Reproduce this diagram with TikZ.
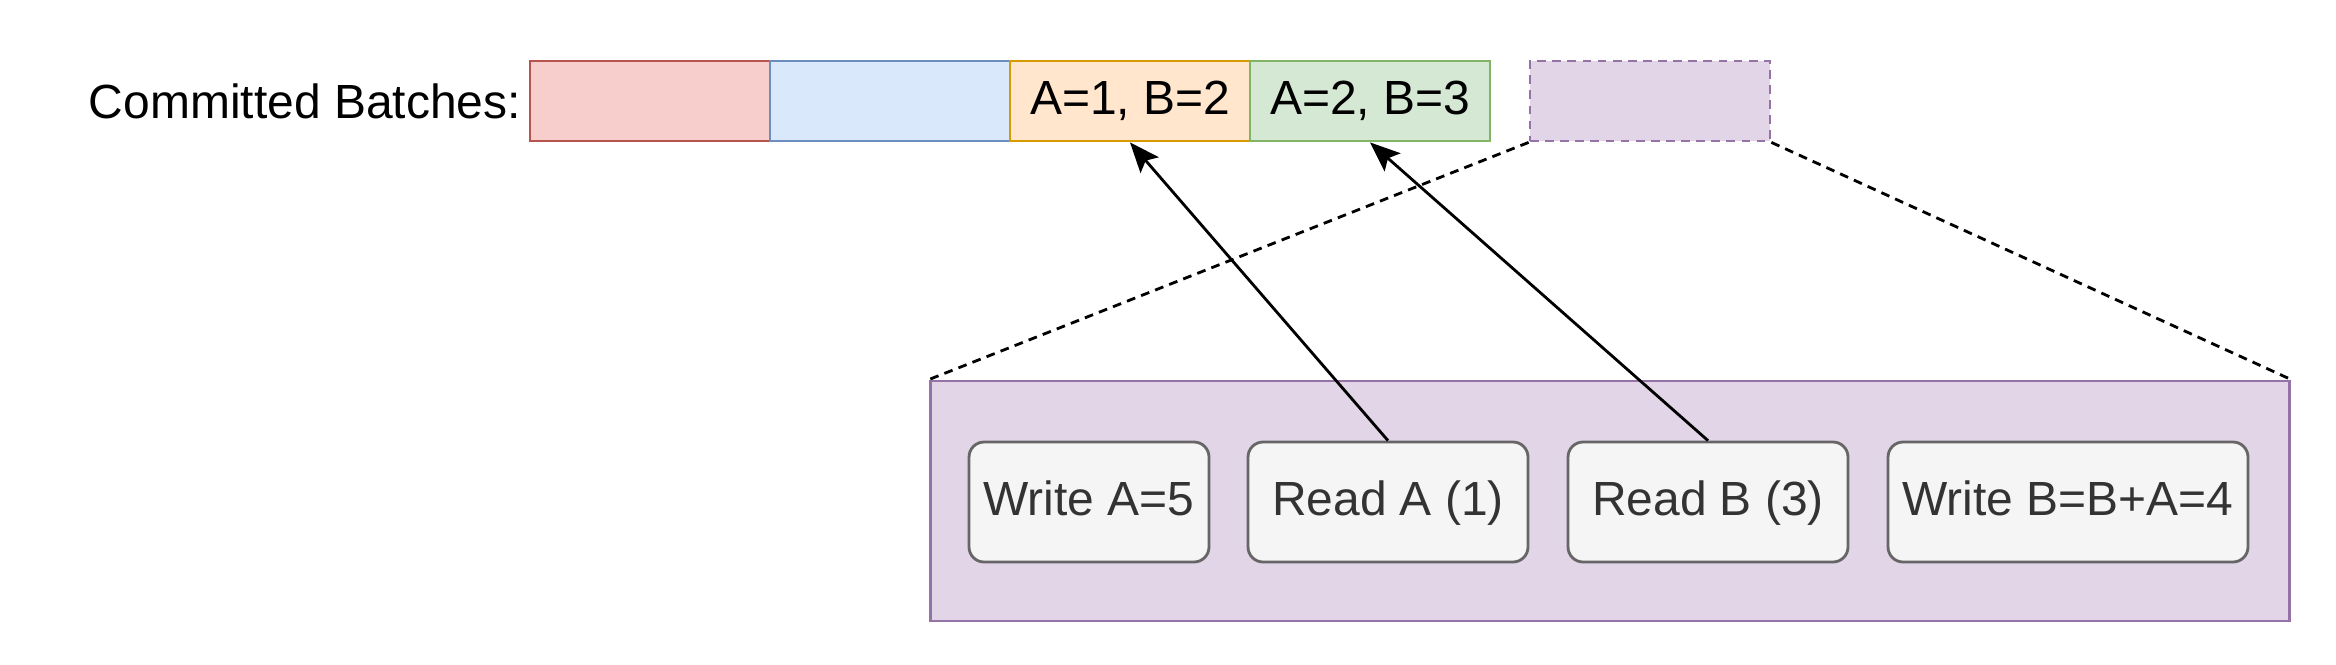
\documentclass[tikz,border=0pt]{standalone}
\usepackage{fontspec}
\setmainfont{Liberation Sans}
\usetikzlibrary{arrows.meta}
\definecolor{redfill}{HTML}{F8CECC}\definecolor{reddraw}{HTML}{B85450}
\definecolor{bluefill}{HTML}{DAE8FC}\definecolor{bluedraw}{HTML}{6C8EBF}
\definecolor{orangefill}{HTML}{FFE6CC}\definecolor{orangedraw}{HTML}{D79B00}
\definecolor{greenfill}{HTML}{D5E8D4}\definecolor{greendraw}{HTML}{82B366}
\definecolor{purplefill}{HTML}{E1D5E7}\definecolor{purpledraw}{HTML}{9673A6}
\definecolor{opfill}{HTML}{F5F5F5}\definecolor{opdraw}{HTML}{666666}
\definecolor{optext}{HTML}{333333}
\tikzset{
  batch/.style={draw, line width=1.6pt, minimum width=4.8cm, minimum height=1.6cm, inner sep=0pt,
    text height=0.68cm, text depth=0.14cm},
  opbox/.style={draw=opdraw, fill=opfill, text=optext, line width=1.6pt, rounded corners=0.3cm,
    minimum height=2.4cm, inner sep=0pt, text height=0.68cm, text depth=0.14cm},
}
\begin{document}
\begin{tikzpicture}[x=0.02cm, y=-0.02cm, >={Stealth[length=0.6cm, width=0.48cm, inset=0.12cm]},
  font=\fontsize{27.3}{33}\selectfont]
  \useasboundingbox (0,0) rectangle (2336,664);
  % コミット済みのバッチ
  \node[anchor=east] (lbl) at (527,101) {Committed Batches:};
  \node[batch, draw=reddraw, fill=redfill] (rb) at (650,101) {};
  \node[batch, draw=bluedraw, fill=bluefill] (bb) at (890,101) {};
  \node[batch, draw=orangedraw, fill=orangefill] (ob) at (1130,101) {A=1, B=2};
  \node[batch, draw=greendraw, fill=greenfill] (gb) at (1370,101) {A=2, B=3};
  \node[batch, draw=purpledraw, fill=purplefill, dash pattern=on 5pt off 3.6pt] (pb) at (1650,101) {};
  % 実行中のバッチ (拡大)
  \node[draw=purpledraw, fill=purplefill, line width=1.6pt, minimum width=27.2cm, minimum height=4.8cm,
    inner sep=0pt] (big) at (1610,501) {};
  \draw[dash pattern=on 5pt off 3.6pt, line width=1.6pt] (pb.south west) -- (big.north west);
  \draw[dash pattern=on 5pt off 3.6pt, line width=1.6pt] (pb.south east) -- (big.north east);
  \node[opbox, minimum width=4.8cm] (wa) at (1089,502) {Write A=5};
  \node[opbox, minimum width=5.6cm] (ra) at (1388,502) {Read A (1)};
  \node[opbox, minimum width=5.6cm] (rdb) at (1708,502) {Read B (3)};
  \node[opbox, minimum width=7.2cm] (wb) at (2068,502) {Write B=B+A=4};
  % 読み出し元
  \draw[->, line width=1.6pt] (ra.north) -- (ob.south);
  \draw[->, line width=1.6pt] (rdb.north) -- (gb.south);
\end{tikzpicture}
\end{document}
